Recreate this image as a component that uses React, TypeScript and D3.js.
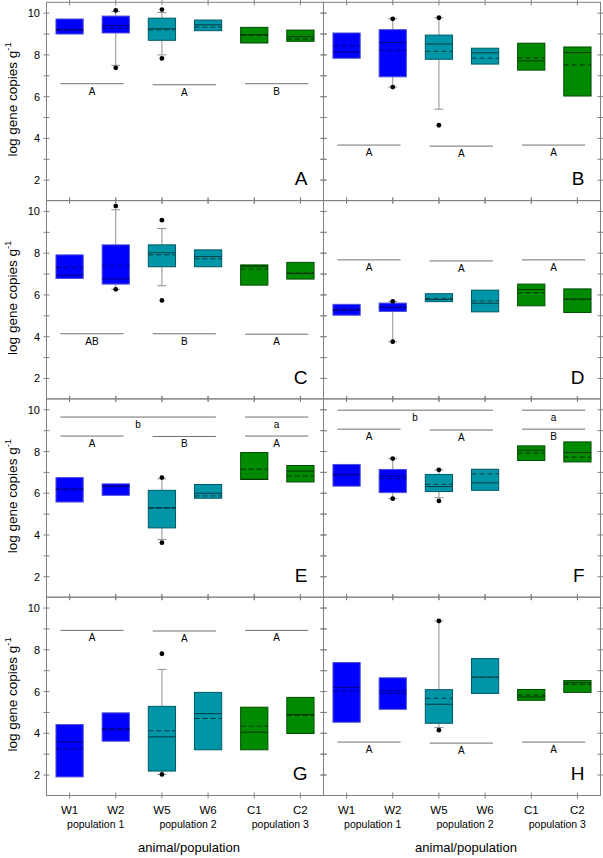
import * as d3 from "d3";

const categories = ["W1", "W2", "W5", "W6", "C1", "C2"];
const populations = ["population 1", "population 2", "population 3"];
const panelLetters = ["A", "B", "C", "D", "E", "F", "G", "H"];
const yTickValues = [2, 3, 4, 5, 6, 7, 8, 9, 10];
const yLabelValues = [2, 4, 6, 8, 10];

// each row: [q1, q3, median, mean, whiskerLow, whiskerHigh]
const boxesA = [
  [9.0, 9.72, 9.22, 9.18, null, null],
  [9.05, 9.86, 9.4, 9.29, 7.5, 10.08],
  [8.7, 9.76, 9.25, 9.2, 8.0, 10.03],
  [9.16, 9.67, 9.44, 9.33, null, null],
  [8.57, 9.32, 8.97, 8.94, null, null],
  [8.65, 9.19, 8.87, 8.76, null, null],
];
const boxesB = [
  [7.84, 9.05, 8.14, 8.43, null, null],
  [6.95, 9.21, 8.59, 8.22, 6.46, 9.73],
  [7.79, 8.95, 8.52, 8.17, 5.4, 9.78],
  [7.56, 8.32, 8.1, 7.84, null, null],
  [7.27, 8.56, 7.71, 7.86, null, null],
  [6.03, 8.38, 8.11, 7.52, null, null],
];
const boxesC = [
  [6.79, 7.92, 6.95, 7.32, null, null],
  [6.52, 8.4, 6.77, 7.4, 6.27, 10.08],
  [7.35, 8.4, 8.02, 7.92, 6.44, 9.18],
  [7.35, 8.16, 7.84, 7.73, null, null],
  [6.47, 7.44, 7.37, 7.24, null, null],
  [6.76, 7.56, 7.03, 7.05, null, null],
];
const boxesD = [
  [5.03, 5.55, 5.31, 5.26, null, null],
  [5.21, 5.61, 5.42, 5.4, 3.76, 5.69],
  [5.68, 6.06, 5.79, 5.84, null, null],
  [5.19, 6.23, 5.6, 5.71, null, null],
  [5.48, 6.52, 6.26, 6.1, null, null],
  [5.16, 6.29, 5.8, 5.79, null, null],
];
const boxesE = [
  [5.58, 6.75, 6.2, 6.18, null, null],
  [5.9, 6.45, 6.32, 6.35, null, null],
  [4.34, 6.14, 5.31, 5.28, 3.78, 6.69],
  [5.76, 6.42, 6.0, 5.87, null, null],
  [6.66, 7.95, 6.67, 7.15, null, null],
  [6.54, 7.33, 7.06, 6.82, null, null],
];
const boxesF = [
  [6.34, 7.38, 6.91, 6.88, null, null],
  [6.03, 7.14, 6.82, 6.7, 5.74, 7.66],
  [6.08, 6.9, 6.32, 6.43, 5.79, 7.12],
  [6.14, 7.15, 6.5, 6.93, null, null],
  [7.57, 8.27, 8.06, 7.92, null, null],
  [7.5, 8.46, 7.95, 7.73, null, null],
];
const boxesG = [
  [1.91, 4.42, 3.59, 3.26, null, null],
  [3.62, 4.98, 4.15, 4.23, null, null],
  [2.19, 5.29, 3.83, 4.12, 2.03, 7.06],
  [3.21, 5.96, 4.94, 4.71, null, null],
  [3.21, 5.25, 4.05, 4.34, null, null],
  [3.99, 5.72, 4.9, 4.86, null, null],
];
const boxesH = [
  [4.53, 7.39, 6.2, 6.03, null, null],
  [5.15, 6.66, 6.03, 5.9, null, null],
  [4.48, 6.09, 5.39, 5.68, 4.28, 9.38],
  [5.91, 7.58, 6.69, 6.68, null, null],
  [5.58, 6.1, 5.74, 5.83, null, null],
  [5.96, 6.53, 6.42, 6.34, null, null],
];

// [category index, value]
const outliersA = [[1, 10.13], [1, 7.38], [2, 10.17], [2, 7.83]];
const outliersB = [[1, 9.73], [1, 6.46], [2, 9.78], [2, 4.63]];
const outliersC = [[1, 10.26], [1, 6.27], [2, 9.58], [2, 5.74]];
const outliersD = [[1, 5.69], [1, 3.76]];
const outliersE = [[2, 6.75], [2, 3.63]];
const outliersF = [[1, 7.66], [1, 5.74], [2, 7.12], [2, 5.63]];
const outliersG = [[2, 7.81], [2, 2.03]];
const outliersH = [[2, 9.38], [2, 4.15]];

// [first category, last category, value, letter]
const sigA = [[0, 1, 6.62, "A"], [2, 3, 6.57, "A"], [4, 5, 6.62, "B"]];
const sigB = [[0, 1, 3.68, "A"], [2, 3, 3.63, "A"], [4, 5, 3.68, "A"]];
const sigC = [[0, 1, 4.14, "AB"], [2, 3, 4.14, "B"], [4, 5, 4.12, "A"]];
const sigD = [[0, 1, 7.68, "A"], [2, 3, 7.63, "A"], [4, 5, 7.68, "A"]];
const sigE = [
  [0, 3, 9.65, "b"], [4, 5, 9.65, "a"],
  [0, 1, 8.74, "A"], [2, 3, 8.72, "B"], [4, 5, 8.74, "A"],
];
const sigF = [
  [0, 3, 9.98, "b"], [4, 5, 9.98, "a"],
  [0, 1, 9.07, "A"], [2, 3, 9.03, "A"], [4, 5, 9.07, "B"],
];
const sigG = [[0, 1, 8.93, "A"], [2, 3, 8.9, "A"], [4, 5, 8.93, "A"]];
const sigH = [[0, 1, 3.58, "A"], [2, 3, 3.53, "A"], [4, 5, 3.58, "A"]];

const panelBoxes = [boxesA, boxesB, boxesC, boxesD, boxesE, boxesF, boxesG, boxesH];
const panelOutliers = [outliersA, outliersB, outliersC, outliersD, outliersE, outliersF, outliersG, outliersH];
const panelSig = [sigA, sigB, sigC, sigD, sigE, sigF, sigG, sigH];

const fills = ["#0000ff", "#0000ff", "#0096a8", "#0096a8", "#008a00", "#008a00"];
const strokes = ["#5050d8", "#5050d8", "#005a66", "#005a66", "#004d00", "#004d00"];
const lines = ["#000080", "#000080", "#003c44", "#003c44", "#003300", "#003300"];

const FONT = "'Liberation Sans', Arial, Helvetica, sans-serif";
const frame = "#808080";

const left0 = 46.5;
const panelW = 277;
const top0 = 2.3;
const panelH = 198.3;

function Panel({ idx }: { idx: number }) {
  const col = idx % 2;
  const row = Math.floor(idx / 2);
  const x0 = left0 + col * panelW;
  const y0 = top0 + row * panelH;

  const x = d3.scaleBand().domain(categories).range([x0, x0 + panelW]).padding(0);
  const y = d3.scaleLinear().domain([1.02, 10.52]).range([y0 + panelH, y0]);
  const step = x.step();
  const bw = step * 0.59;
  const boxes = panelBoxes[idx];

  return (
    <g>
      <rect x={x0} y={y0} width={panelW} height={panelH} fill="none" stroke={frame} strokeWidth={1} />
      {yTickValues.map((t) => (
        <g key={"yt" + t}>
          <line x1={x0 - 3} x2={x0 + 3} y1={y(t)} y2={y(t)} stroke={frame} />
          <line x1={x0 + panelW - 3} x2={x0 + panelW + 3} y1={y(t)} y2={y(t)} stroke={frame} />
        </g>
      ))}
      {categories.map((c) => {
        const cx = (x(c) as number) + step / 2;
        return (
          <g key={"xt" + c}>
            <line x1={cx} x2={cx} y1={y0 - 3} y2={y0 + 3} stroke={frame} />
            <line x1={cx} x2={cx} y1={y0 + panelH - 3} y2={y0 + panelH + 3} stroke={frame} />
          </g>
        );
      })}
      {col === 0 &&
        yLabelValues.map((t) => (
          <text key={"yl" + t} x={40} y={y(t) + 4} textAnchor="end" fontSize={11} fontFamily={FONT}>
            {t}
          </text>
        ))}
      {col === 0 && (
        <text
          transform={`translate(17,${y0 + panelH / 2 - 2}) rotate(-90)`}
          textAnchor="middle"
          fontSize={13.5}
          fontFamily={FONT}
        >
          log gene copies g
          <tspan fontSize={9.5} dy={-6}>-1</tspan>
        </text>
      )}
      {boxes.map((b, i) => {
        const cx = (x(categories[i]) as number) + step / 2;
        const [q1, q3, med, mean, wl, wh] = b as (number | null)[];
        return (
          <g key={"b" + i}>
            {wh != null && (
              <g stroke="#909090">
                <line x1={cx} x2={cx} y1={y(q3 as number)} y2={y(wh)} />
                <line x1={cx - 4.5} x2={cx + 4.5} y1={y(wh)} y2={y(wh)} />
              </g>
            )}
            {wl != null && (
              <g stroke="#909090">
                <line x1={cx} x2={cx} y1={y(q1 as number)} y2={y(wl)} />
                <line x1={cx - 4.5} x2={cx + 4.5} y1={y(wl)} y2={y(wl)} />
              </g>
            )}
            <rect
              x={cx - bw / 2}
              y={y(q3 as number)}
              width={bw}
              height={y(q1 as number) - y(q3 as number)}
              fill={fills[i]}
              stroke={strokes[i]}
              strokeWidth={1}
            />
            <line x1={cx - bw / 2} x2={cx + bw / 2} y1={y(med as number)} y2={y(med as number)} stroke={lines[i]} strokeWidth={1} />
            <line
              x1={cx - bw / 2}
              x2={cx + bw / 2}
              y1={y(mean as number)}
              y2={y(mean as number)}
              stroke={lines[i]}
              strokeWidth={1}
              strokeDasharray="5,3"
            />
          </g>
        );
      })}
      {panelOutliers[idx].map((o, i) => (
        <circle
          key={"o" + i}
          cx={(x(categories[o[0]]) as number) + step / 2}
          cy={y(o[1])}
          r={2.4}
          fill="#000"
        />
      ))}
      {panelSig[idx].map((s, i) => {
        const [a, bIdx, v, letter] = s as [number, number, number, string];
        const xa = (x(categories[a]) as number) + step * 0.3;
        const xb = (x(categories[bIdx]) as number) + step * 0.67;
        return (
          <g key={"s" + i}>
            <line x1={xa} x2={xb} y1={y(v)} y2={y(v)} stroke="#707070" strokeWidth={1} />
            <text x={(xa + xb) / 2} y={y(v) + 11} textAnchor="middle" fontSize={10} fontFamily={FONT}>
              {letter}
            </text>
          </g>
        );
      })}
      <text x={x0 + panelW - 16} y={y0 + 183} textAnchor="end" fontSize={19} fontFamily={FONT}>
        {panelLetters[idx]}
      </text>
    </g>
  );
}

export default function App() {
  const bottom = top0 + 4 * panelH;
  return (
    <svg
      width={603}
      height={858}
      style={{ position: "absolute", left: 0, top: 0, background: "#fff" }}
    >
      {panelLetters.map((_, i) => (
        <Panel key={i} idx={i} />
      ))}
      {[0, 1].map((col) => {
        const x0 = left0 + col * panelW;
        const x = d3.scaleBand().domain(categories).range([x0, x0 + panelW]).padding(0);
        const step = x.step();
        return (
          <g key={"xl" + col} fontFamily={FONT}>
            {categories.map((c) => (
              <text key={c} x={(x(c) as number) + step / 2} y={bottom + 18} textAnchor="middle" fontSize={11.5}>
                {c}
              </text>
            ))}
            {populations.map((p, j) => (
              <text
                key={p}
                x={(x(categories[j * 2]) as number) + step + 3}
                y={bottom + 32}
                textAnchor="middle"
                fontSize={10.5}
              >
                {p}
              </text>
            ))}
            <text x={x0 + panelW / 2 + 4} y={bottom + 56} textAnchor="middle" fontSize={13}>
              animal/population
            </text>
          </g>
        );
      })}
    </svg>
  );
}
